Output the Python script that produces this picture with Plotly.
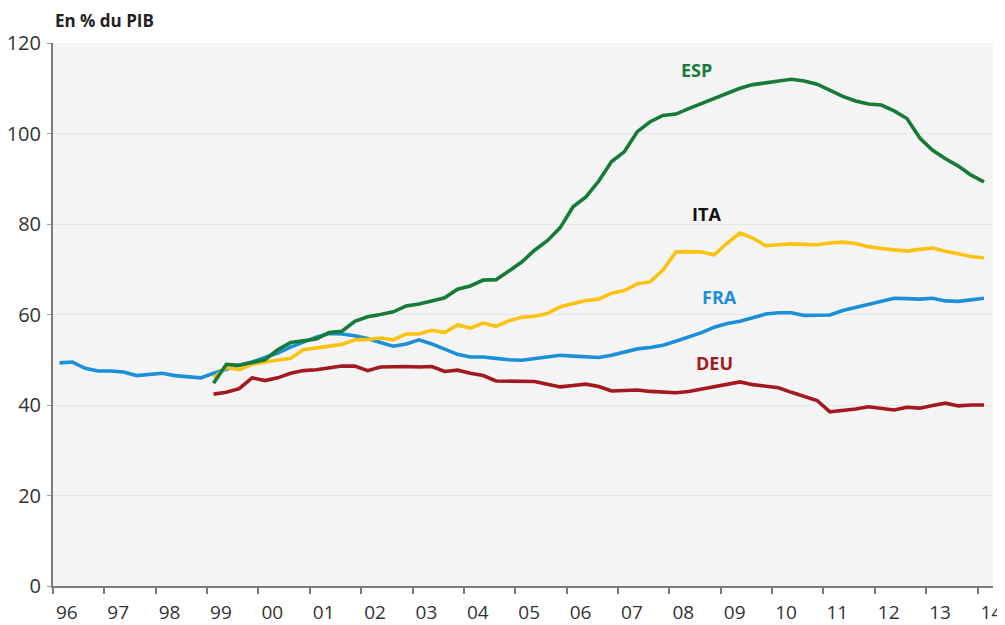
import plotly.graph_objects as go

# Quarterly data (mid-quarter positions), % of GDP
fra_start = 1996.125
fra = [49.3, 49.5, 48.1, 47.5, 47.5, 47.3, 46.5, 46.7, 47.0, 46.5, 46.2, 46.0,
       47.0, 48.0, 48.8, 49.5, 50.5, 51.5, 52.8, 54.0, 55.0, 55.8, 55.7, 55.3,
       54.7, 53.8, 53.0, 53.5, 54.4, 53.5, 52.3, 51.2, 50.6, 50.6, 50.3, 50.0,
       49.9, 50.2, 50.5, 51.0, 50.8, 50.6, 50.5, 51.0, 51.6, 52.4, 52.7, 53.2,
       54.1, 55.0, 56.0, 57.2, 58.0, 58.5, 59.2, 60.1, 60.4, 60.4, 59.8, 59.8,
       59.9, 60.9, 61.6, 62.1, 62.9, 63.6, 63.5, 63.4, 63.6, 63.0, 62.9, 63.2, 63.6]

euro_start = 1999.125
esp = [44.8, 49.0, 48.8, 49.5, 50.0, 52.2, 53.8, 54.2, 54.6, 56.0, 56.3, 58.5,
       59.5, 60.0, 60.6, 61.9, 62.3, 63.0, 63.7, 65.6, 66.3, 67.6, 67.7, 69.6,
       71.6, 74.2, 76.3, 79.2, 83.8, 86.0, 89.5, 93.8, 96.0, 100.4, 102.6, 104.0,
       104.3, 105.5, 106.6, 107.6, 108.8, 110.0, 110.8, 111.3, 111.6, 112.0, 111.6,
       110.9, 109.5, 108.2, 107.2, 106.5, 106.3, 105.0, 103.3, 99.0, 96.3, 94.4,
       92.8, 90.8, 89.3]
ita = [46.0, 48.3, 47.8, 49.0, 49.5, 50.0, 50.3, 52.2, 52.6, 53.0, 53.4, 54.4,
       54.5, 54.8, 54.4, 55.7, 55.7, 56.5, 56.0, 57.7, 57.0, 58.1, 57.4, 58.6,
       59.4, 59.6, 60.2, 61.7, 62.3, 63.1, 63.4, 64.7, 65.3, 66.8, 67.2, 69.8,
       73.8, 73.9, 73.8, 73.2, 75.8, 78.0, 76.9, 75.2, 75.4, 75.6, 75.5, 75.4,
       75.8, 76.0, 75.7, 75.0, 74.6, 74.3, 74.0, 74.4, 74.7, 74.0, 73.3, 72.8, 72.5]
deu = [42.4, 42.8, 43.6, 46.0, 45.4, 46.0, 47.0, 47.6, 47.8, 48.2, 48.6, 48.6,
       47.6, 48.4, 48.5, 48.5, 48.4, 48.5, 47.4, 47.7, 47.0, 46.5, 45.3, 45.2,
       45.1, 45.2, 44.6, 44.0, 44.3, 44.6, 44.1, 43.1, 43.2, 43.3, 43.0, 42.9,
       42.7, 43.0, 43.5, 44.2, 44.7, 45.1, 44.5, 44.2, 43.8, 42.8, 41.8, 41.0,
       38.5, 38.7, 39.1, 39.6, 39.2, 38.9, 39.5, 39.3, 39.9, 40.4, 39.8, 40.0, 40.0]

years = list(range(1996, 2015))
year_labels = ["96", "97", "98", "99", "00", "01", "02", "03", "04", "05",
               "06", "07", "08", "09", "10", "11", "12", "13", "14"]

series = [
    ("FRA", fra_start, fra, "#1b8fd8"),
    ("DEU", euro_start, deu, "#a3191f"),
    ("ITA", euro_start, ita, "#fdc20f"),
    ("ESP", euro_start, esp, "#167a38"),
]

labels = [
    ("ESP", 2008.53, 114.0, "#167a38"),
    ("ITA", 2008.72, 82.3, "#111111"),
    ("FRA", 2008.98, 63.9, "#1b8fd8"),
    ("DEU", 2008.88, 49.3, "#a3191f"),
]

fig = go.Figure()
for name, start, vals, col in series:
    xs = [start + 0.25 * i for i in range(len(vals))]
    fig.add_trace(go.Scatter(x=xs, y=vals, mode="lines", name=name,
                             line=dict(color=col, width=3.6),
                             showlegend=False, hoverinfo="x+y+name"))

for txt, lx, ly, col in labels:
    fig.add_annotation(x=lx, y=ly, text="<b>%s</b>" % txt, showarrow=False,
                       font=dict(family="Open Sans", size=18, color=col),
                       xanchor="center", yanchor="middle")

fig.add_annotation(xref="paper", yref="paper", x=0, y=1, yshift=23,
                   text="<b>En % du PIB</b>", showarrow=False,
                   xanchor="left", yanchor="middle",
                   font=dict(family="Open Sans", size=17, color="#222222"))

fig.update_layout(
    width=997, height=617,
    margin=dict(l=45, r=12, t=35, b=39),
    paper_bgcolor="white",
    plot_bgcolor="#f4f4f4",
    font=dict(family="Open Sans", size=20, color="#333333"),
    xaxis=dict(
        range=[1996, 2014.3],
        automargin=False,
        tickmode="array",
        tickvals=[y + 0.27 for y in years],
        ticktext=year_labels,
        tickfont=dict(size=19),
        ticks="",
        showgrid=False,
        zeroline=False,
        showline=True, linecolor="#7a7a7a", linewidth=2,
        ticklabelstandoff=8,
        minor=dict(ticks="outside", ticklen=6, tickcolor="#7a7a7a",
                   tickwidth=1.5, tick0=1996, dtick=1, showgrid=False),
    ),
    yaxis=dict(
        range=[0, 120],
        automargin=False,
        tickmode="linear", tick0=0, dtick=20,
        ticks="outside", ticklen=4, tickcolor="#9a9a9a",
        showgrid=True, gridcolor="#e6e6e6", gridwidth=1,
        zeroline=False,
        showline=True, linecolor="#7a7a7a", linewidth=2,
        ticklabelstandoff=2,
    ),
)

fig.write_html("out.html")
